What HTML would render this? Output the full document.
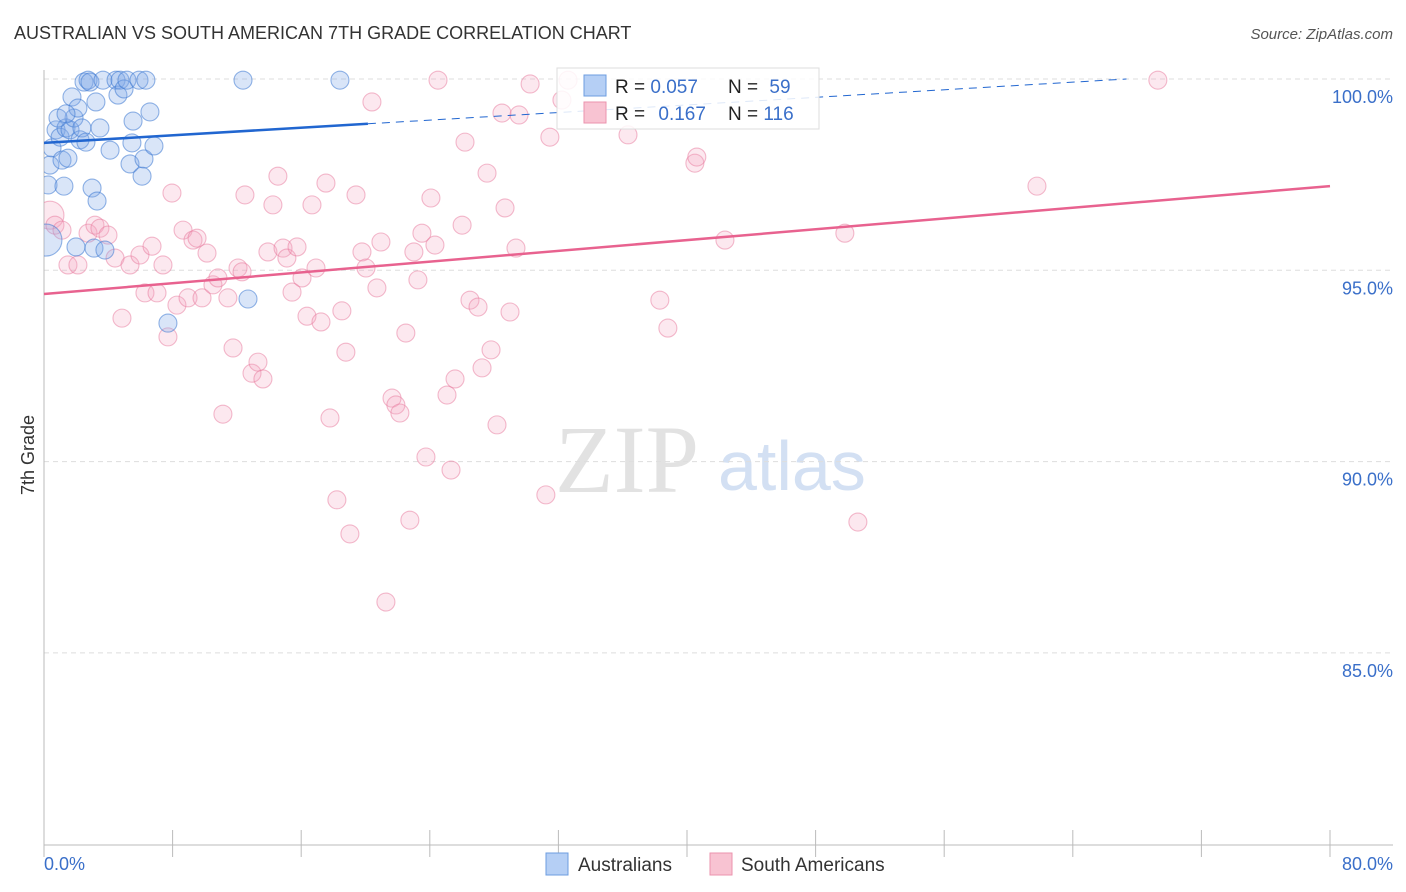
<!DOCTYPE html>
<html><head><meta charset="utf-8"><style>
body{margin:0;background:#fff;font-family:"Liberation Sans",sans-serif;}
#wrap{position:relative;width:1406px;height:892px;overflow:hidden}
</style></head><body>
<div id="wrap">
<svg id="svg" width="1406" height="892" xmlns="http://www.w3.org/2000/svg">
<defs><clipPath id="plotclip"><rect x="44" y="60" width="1360" height="785"/></clipPath></defs>
<text x="14" y="39" font-size="18" fill="#333">AUSTRALIAN VS SOUTH AMERICAN 7TH GRADE CORRELATION CHART</text>
<text x="1393" y="39" font-size="15" fill="#555" text-anchor="end" font-style="italic">Source: ZipAtlas.com</text>
<text x="34" y="455" font-size="18" fill="#333" text-anchor="middle" transform="rotate(-90 34 455)">7th Grade</text>
<text x="555" y="492" font-size="96" fill="#e2e2e2" font-family="Liberation Serif,serif">ZIP</text>
<text x="718" y="490" font-size="70" fill="#d3e0f3">atlas</text>
<g id="grid"></g><g id="axes"></g><g id="pts" clip-path="url(#plotclip)"></g><g id="lines"></g>
<g>
<rect x="557" y="68" width="262" height="61" fill="#fff" fill-opacity="0.85" stroke="#ddd"/>
<rect x="584" y="75" width="22" height="21" fill="#b5cff5" stroke="#6d9de0"/>
<rect x="584" y="102" width="22" height="21" fill="#f8c3d2" stroke="#eb93ae"/>
<text x="615" y="93" font-size="19" fill="#222">R = <tspan fill="#3a6fc9">0.057</tspan></text>
<text x="728" y="93" font-size="19" fill="#222">N = <tspan fill="#3a6fc9" dx="6">59</tspan></text>
<text x="615" y="120" font-size="19" fill="#222">R = <tspan fill="#3a6fc9" dx="8">0.167</tspan></text>
<text x="728" y="120" font-size="19" fill="#222">N = <tspan fill="#3a6fc9">116</tspan></text>
</g>
<g>
<rect x="546" y="853" width="22" height="22" fill="#b5cff5" stroke="#6d9de0"/>
<text x="578" y="871" font-size="19" fill="#333">Australians</text>
<rect x="710" y="853" width="22" height="22" fill="#f8c3d2" stroke="#eb93ae"/>
<text x="741" y="871" font-size="19" fill="#333">South Americans</text>
</g>
</svg>
</div>
<script>
const blueX=[0.25,0.37,0.50,0.75,1.00,1.12,1.24,1.37,1.49,1.62,1.74,1.87,1.99,2.11,2.24,2.36,2.49,2.61,2.74,2.86,2.99,3.11,3.23,3.30,3.48,3.67,3.79,4.11,4.48,4.60,4.73,4.98,5.16,5.35,5.47,5.54,5.91,6.10,6.22,6.34,6.59,6.84,7.71,12.38,12.69,18.41,0.87,1.37,0.12];
const blueY=[97.23,97.75,98.20,98.67,98.48,97.88,97.20,98.72,97.93,98.67,99.53,98.98,95.61,99.24,98.41,98.72,99.92,98.35,99.97,99.92,97.15,95.58,99.40,96.81,98.72,99.97,95.53,98.14,99.97,99.58,99.97,99.74,99.97,97.78,98.33,98.90,99.97,97.46,97.91,99.97,99.14,98.25,93.62,99.97,94.25,99.97,98.98,99.09,95.79];
const pinkX=[0.37,0.68,1.12,1.49,2.11,2.74,3.17,3.48,3.98,4.42,4.85,5.35,5.97,6.28,6.72,7.03,7.40,7.71,7.96,8.27,8.65,8.96,9.27,9.52,9.83,10.14,10.51,10.82,11.13,11.44,11.76,12.07,12.32,12.50,12.94,13.31,13.62,13.93,14.24,14.55,14.87,15.11,15.43,15.74,16.05,16.36,16.67,16.92,17.23,17.54,17.79,18.22,18.53,18.78,19.03,19.41,19.78,20.03,20.40,20.71,20.96,21.27,21.65,21.89,22.14,22.51,22.76,23.01,23.26,23.51,23.76,24.07,24.32,24.51,25.07,25.32,25.57,26.01,26.19,26.50,27.00,27.25,27.56,27.81,28.18,28.49,28.68,28.99,29.36,29.55,30.24,31.22,31.47,32.22,32.60,36.33,38.31,38.81,40.49,40.61,42.36,49.82,50.63,61.77,69.29];
const pinkY=[96.44,96.18,96.05,95.14,95.14,95.97,96.18,96.10,95.92,95.32,93.75,95.14,95.40,94.41,95.63,94.41,95.14,93.26,97.02,94.09,96.05,94.28,95.79,95.84,94.28,95.45,94.62,94.80,91.24,94.28,92.97,95.06,94.96,96.97,92.31,92.60,92.16,95.48,96.71,97.46,95.58,95.32,94.43,95.61,94.80,93.80,96.71,95.06,93.65,97.28,91.14,89.00,93.94,92.86,88.11,96.97,95.48,95.06,99.40,94.54,95.74,86.33,91.66,91.48,91.27,93.36,88.47,95.48,94.75,95.97,90.12,96.89,95.66,99.97,91.74,89.78,92.16,96.18,98.35,94.22,94.04,92.45,97.54,92.92,90.96,99.11,96.63,93.91,95.58,99.06,99.87,89.13,98.48,99.45,99.97,98.54,94.22,93.49,97.80,97.96,95.79,95.97,88.42,97.20,99.97];
const yTicks=[100,95,90,85];
const yTickLabels=["100.0%","95.0%","90.0%","85.0%"];
const blueFit=[98.33,0.0248];
const pinkFit=[94.38,0.03525];
const NS="http://www.w3.org/2000/svg";
const X=v=>44+v/80*1286, Y=v=>79+(100-v)*38.26;
function mk(t,a,p){const e=document.createElementNS(NS,t);for(const k in a)e.setAttribute(k,a[k]);p.appendChild(e);return e;}
const grid=document.getElementById('grid'),axes=document.getElementById('axes'),pts=document.getElementById('pts'),lines=document.getElementById('lines');
yTicks.forEach((t,i)=>{
 const l=mk('line',{x1:44,x2:1393,y1:Y(t),y2:Y(t),stroke:'#ddd','stroke-dasharray':'5,4'},grid);
 
 
 const tx=mk('text',{x:1393,y:Y(t)+24,'font-size':18,fill:'#3a6fc9','text-anchor':'end'},axes);
 tx.textContent=yTickLabels[i];
 
 
});
const ya=mk('line',{x1:44,x2:44,y1:70,y2:845,stroke:'#bbb'},axes);


const xa=mk('line',{x1:44,x2:1393,y1:845,y2:845,stroke:'#bbb'},axes);


for(let i=0;i<=10;i++){const tk=mk('line',{x1:X(i*8),x2:X(i*8),y1:830,y2:857,stroke:'#bbb'},axes);
 
 }
const x0=mk('text',{x:44,y:870,'font-size':18,fill:'#3a6fc9'},axes);x0.textContent='0.0%';


const x1=mk('text',{x:1393,y:870,'font-size':18,fill:'#3a6fc9','text-anchor':'end'},axes);x1.textContent='80.0%';


pinkX.forEach((x,i)=>{const c=mk('circle',{cx:X(x),cy:Y(pinkY[i]),r:i==0?14:9,fill:'rgba(245,165,190,0.25)',stroke:'rgba(232,120,155,0.5)','stroke-width':1.1},pts);
 
 });
blueX.forEach((x,i)=>{const c=mk('circle',{cx:X(x),cy:Y(blueY[i]),r:i==blueX.length-1?16:9,fill:'rgba(130,170,232,0.3)',stroke:'rgba(60,120,210,0.55)','stroke-width':1.1},pts);
 
 });
const bs=mk('line',{x1:X(0),y1:Y(blueFit[0]),x2:X(20.15),y2:Y(blueFit[0]+blueFit[1]*20.15),stroke:'#2166d0','stroke-width':2.5},lines);


const xe=(100-blueFit[0])/blueFit[1];
const bd=mk('line',{x1:X(20.15),y1:Y(blueFit[0]+blueFit[1]*20.15),x2:X(xe),y2:Y(100),stroke:'#2166d0','stroke-width':1,'stroke-dasharray':'8,6'},lines);


const pl=mk('line',{x1:X(0),y1:Y(pinkFit[0]),x2:X(80),y2:Y(pinkFit[0]+pinkFit[1]*80),stroke:'#e8628f','stroke-width':2.5},lines);


</script>
</body></html>
